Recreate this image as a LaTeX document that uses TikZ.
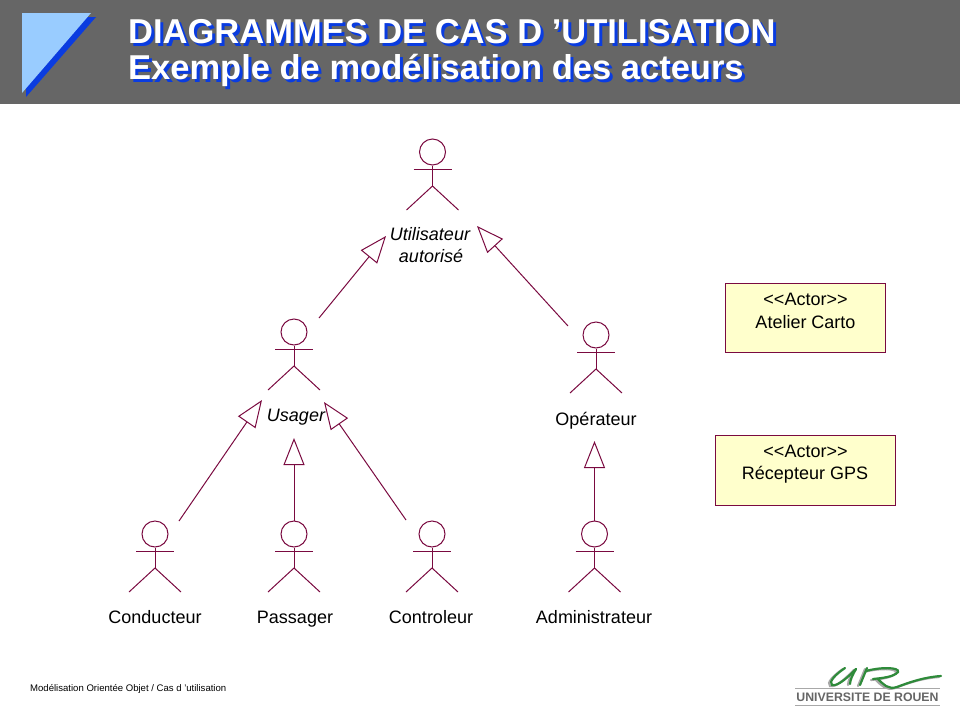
\documentclass[tikz,border=0pt]{standalone}
\usepackage{fontspec}
\setmainfont{Liberation Sans}
\usetikzlibrary{arrows.meta,calc}

\definecolor{umlline}{HTML}{7A0A40}
\definecolor{headgray}{HTML}{666666}
\definecolor{shadowblue}{HTML}{0A3CE0}
\definecolor{lightblue}{HTML}{99CCFF}
\definecolor{boxyellow}{HTML}{FFFFCC}
\definecolor{logogreen}{HTML}{2E8B3A}
\definecolor{logogray}{HTML}{A8A8A8}

\tikzset{
  actorhead/.style={circle,draw=umlline,line width=1pt,inner sep=0pt,minimum size=26pt},
  actorline/.style={draw=umlline,line width=1pt},
  actorlabel/.style={font=\fontsize{18}{23}\selectfont,align=center,inner sep=0pt,anchor=base},
  actorlabelit/.style={actorlabel,font=\fontsize{18}{23}\selectfont\itshape},
  generalize/.style={draw=umlline,line width=1pt,-{Triangle[open,length=27pt,width=21pt,fill=white]}},
  actorbox/.style={rectangle,draw=umlline,line width=1pt,fill=boxyellow,inner sep=0pt},
  titletext/.style={font=\fontsize{34.5}{38}\selectfont\bfseries,inner sep=0pt,anchor=base west},
  logoswoosh/.style={line width=2.2pt,line cap=round}
}

\begin{document}
\begin{tikzpicture}[x=1pt,y=-1pt]
\useasboundingbox (0,0) rectangle (960,720);

% Title band
\fill[headgray] (0,0) rectangle (960,104);
\fill[shadowblue] (26,17)--(96,17)--(26,97)--cycle;
\fill[lightblue] (22,13)--(91,13)--(22,93)--cycle;

% Title, shadow first
\foreach \col/\dx in {shadowblue/3,white/0}
{
\node[titletext,text=\col] at (128+\dx,43+\dx){DIAGRAMMES DE CAS D ’UTILISATION};
\node[titletext,text=\col] at (128+\dx,79.5+\dx){Exemple de modélisation des acteurs};
}

% Actors
\foreach \name/\x/\y in {utilisateur/432.5/152,usager/294/332,operateur/596/335,conducteur/155/534,passager/294/534,controleur/432/534,administrateur/594.5/534}
{
\node[actorhead] (\name) at (\x,\y){};
\draw[actorline] (\name.south)--(\x,\y+34);
\draw[actorline] (\x-19,\y+17)--(\x+19,\y+17);
\draw[actorline] (\x-26,\y+58)--(\x,\y+34)--(\x+26,\y+58);
}

% Actor names
\node[actorlabelit] (utilisateurname) at (430,240){Utilisateur};
\node[actorlabelit] (autorisename) at (431,262){autorisé};
\node[actorlabelit] (usagername) at (296,421){Usager};
\node[actorlabel] (operateurname) at (596,425){Opérateur};
\node[actorlabel] (conducteurname) at (155,623){Conducteur};
\node[actorlabel] (passagername) at (295,623){Passager};
\node[actorlabel] (controleurname) at (431,623){Controleur};
\node[actorlabel] (administrateurname) at (594,623){Administrateur};

% Free ends of the generalizations
\coordinate (usagerfoot) at (319,318);
\coordinate (operateurfoot) at (568,326);
\coordinate (utilisateurleft) at (386,236);
\coordinate (utilisateurright) at (477,226);
\coordinate (conducteurfoot) at (179,521);
\coordinate (controleurfoot) at (406,520);
\coordinate (usagerleft) at (262,400);
\coordinate (usagerright) at (324,402);
\coordinate (usagerbottom) at (294,438);
\coordinate (operateurbottom) at (594.5,441);

% Generalizations
\draw[generalize] (usagerfoot)--(utilisateurleft);
\draw[generalize] (operateurfoot)--(utilisateurright);
\draw[generalize] (conducteurfoot)--(usagerleft);
\draw[generalize] (passager.north)--(usagerbottom);
\draw[generalize] (controleurfoot)--(usagerright);
\draw[generalize] (administrateur.north)--(operateurbottom);

% Stereotype boxes
\node[actorbox,minimum width=160pt,minimum height=69pt] (ateliercarto) at (805.5,317.5){};
\node[actorlabel] (atelieractor) at (805.5,305){<{}<Actor>{}>};
\node[actorlabel] (ateliertext) at (805.5,328){Atelier Carto};
\node[actorbox,minimum width=180.5pt,minimum height=70pt] (recepteurgps) at (805.3,470){};
\node[actorlabel] (recepteuractor) at (805.5,457){<{}<Actor>{}>};
\node[actorlabel] (recepteurtext) at (805,479){Récepteur GPS};

% Footer
\node[font=\fontsize{9.56}{12}\selectfont,inner sep=0pt,anchor=west] (footer) at (30,688.5){Modélisation Orientée Objet / Cas d ’utilisation};

% Logo
\draw[logogray,line width=1pt] (795,688.5)--(940,688.5);
\draw[logogray,line width=1pt] (795,705.5)--(940,705.5);
\node[font=\fontsize{12.3}{15}\selectfont\bfseries,text=black!60,inner sep=0pt] (logotext) at (867.5,697.5){UNIVERSITE DE ROUEN};
\foreach \col/\dx in {logogray/-2,logogreen/0}
{
\begin{scope}[shift={(\dx,\dx*-0.5)},logoswoosh,draw=\col]
\draw (845,668) .. controls (836,674) and (828,682) .. (832,685) .. controls (838,687) and (850,675) .. (856,669);
\draw (856,669) .. controls (853,674) and (850,680) .. (850,684);
\draw (867,668) -- (860,685);
\draw (866,671) .. controls (880,667) and (900,667) .. (898,672) .. controls (894,677) and (882,678) .. (873,679);
\draw (878,679) .. controls (883,684) and (888,690) .. (897,687) .. controls (910,682) and (925,677) .. (941,676);
\end{scope}
}

\end{tikzpicture}
\end{document}
